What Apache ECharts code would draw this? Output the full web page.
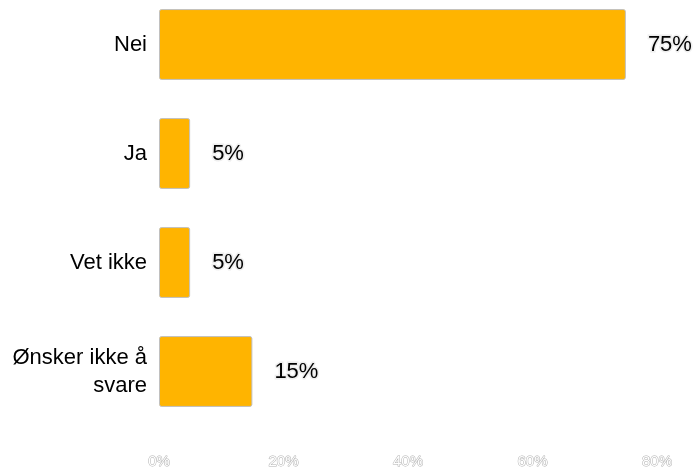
<!DOCTYPE html>
<html>
<head>
<meta charset="utf-8">
<script src="https://cdn.jsdelivr.net/npm/echarts@6/dist/echarts.min.js"></script>
<style>
  html, body { margin: 0; padding: 0; background: #fff; }
  #chart { width: 695px; height: 469px; }
</style>
</head>
<body>
<div id="chart"></div>
<script>
// Survey answers and their shares in percent
const categories = ['Nei', 'Ja', 'Vet ikke', 'Ønsker ikke å\nsvare'];
const shares = [75, 5, 5, 15];
const axisMax = 80;
const axisStep = 20;

const chart = echarts.init(document.getElementById('chart'));
chart.setOption({
  backgroundColor: '#ffffff',
  animation: false,
  grid: {
    left: 159, right: 38, top: -10, height: 436,
    containLabel: false,
    outerBoundsMode: 'none'
  },
  xAxis: {
    type: 'value',
    min: 0,
    max: axisMax,
    interval: axisStep,
    axisLine: { show: false },
    axisTick: { show: false },
    splitLine: { show: false },
    axisLabel: {
      formatter: '{value}%',
      margin: 28,
      fontFamily: 'Liberation Sans, Arial, sans-serif',
      fontSize: 15,
      color: '#ffffff',
      textBorderColor: '#b0b0b0',
      textBorderWidth: 1
    }
  },
  yAxis: {
    type: 'category',
    inverse: true,
    data: categories,
    axisLine: { show: false },
    axisTick: { show: false },
    axisLabel: {
      margin: 12,
      fontFamily: 'Liberation Sans, Arial, sans-serif',
      fontSize: 22,
      lineHeight: 28,
      color: '#000000',
      align: 'right'
    }
  },
  series: [{
    type: 'bar',
    data: shares,
    barCategoryGap: '35%',
    itemStyle: {
      color: '#ffb400',
      borderColor: '#c0c0c0',
      borderWidth: 1,
      borderRadius: 2
    },
    label: {
      show: true,
      position: 'right',
      distance: 22,
      formatter: '{c}%',
      fontFamily: 'Liberation Sans, Arial, sans-serif',
      fontSize: 22,
      color: '#000000',
      textBorderColor: '#eeeeee',
      textBorderWidth: 3
    }
  }]
});
</script>
</body>
</html>
